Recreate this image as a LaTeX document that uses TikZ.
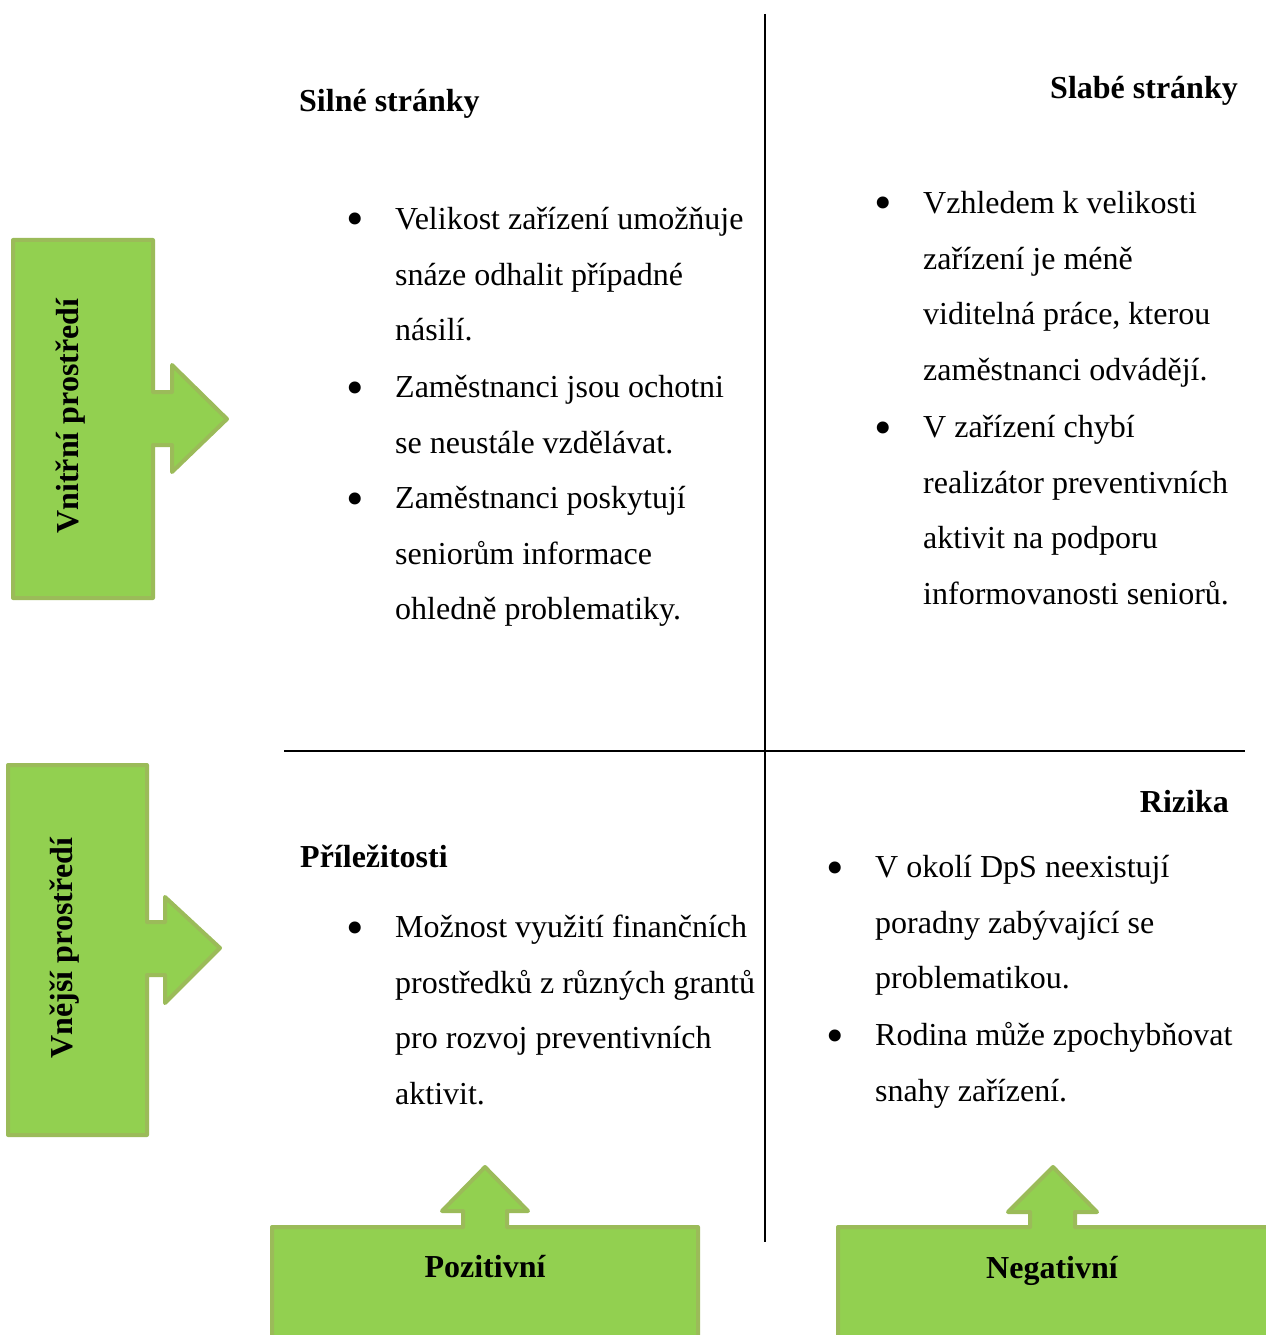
\documentclass[tikz,border=0pt]{standalone}
\usepackage{fontspec}
\setmainfont{Liberation Serif}
\usetikzlibrary{positioning}

\definecolor{zelena}{HTML}{92D050}
\definecolor{okraj}{HTML}{9BBB59}

\tikzset{
    sipka/.style={fill=zelena, draw=okraj, line width=4bp, line join=round},
    nadpis/.style={font=\fontsize{32bp}{38bp}\selectfont\bfseries, inner sep=0pt},
    polozka/.style={font=\fontsize{32bp}{55.8bp}\selectfont, align=left, anchor=north west, inner sep=0pt},
    odrazka/.style={font=\fontsize{50bp}{60bp}\selectfont, anchor=base, inner sep=0pt}
}

\begin{document}
\begin{tikzpicture}[x=1bp, y=-1bp]

    \useasboundingbox (0,0) rectangle (1265,1335);

    % Draw the cross
    \coordinate (horni) at (765,14);
    \coordinate (dolni) at (765,1242);
    \coordinate (levy) at (284,751);
    \coordinate (pravy) at (1245,751);
    \draw[line width=1.5bp] (horni) -- (dolni);
    \draw[line width=1.5bp] (levy) -- (pravy);

    % Green arrows on the left
    \draw[sipka] (13,240) -- (153,240) -- (153,392) -- (172,392) -- (172,365) -- (227,419)
        -- (172,472) -- (172,445) -- (153,445) -- (153,598) -- (13,598) -- cycle;
    \draw[sipka] (8,765) -- (147,765) -- (147,922) -- (165,922) -- (165,897) -- (220,948)
        -- (165,1003) -- (165,975) -- (147,975) -- (147,1135) -- (8,1135) -- cycle;

    % Green arrows at the bottom
    \draw[sipka] (272,1345) -- (272,1227) -- (463,1227) -- (463,1211) -- (442,1211) -- (485,1167)
        -- (528,1211) -- (507,1211) -- (507,1227) -- (698,1227) -- (698,1345);
    \draw[sipka] (838,1345) -- (838,1227) -- (1030,1227) -- (1030,1212) -- (1008,1212) -- (1053,1167)
        -- (1097,1212) -- (1075,1212) -- (1075,1227) -- (1275,1227) -- (1275,1345);

    % Arrow labels
    \node[nadpis, rotate=90, anchor=base] (vnitrni) at (78,416) {Vnitřní prostředí};
    \node[nadpis, rotate=90, anchor=base] (vnejsi) at (72,948) {Vnější prostředí};
    \node[nadpis, anchor=base] (pozitivni) at (485,1277) {Pozitivní};
    \node[nadpis, anchor=base] (negativni) at (1052,1278) {Negativní};

    % Headings of the quadrants
    \node[nadpis, anchor=base west] (silne) at (299,112) {Silné stránky};
    \node[nadpis, anchor=base east] (slabe) at (1238,99) {Slabé stránky};
    \node[nadpis, anchor=base west] (prilezitosti) at (300,867) {Příležitosti};
    \node[nadpis, anchor=base east] (rizika) at (1229,812) {Rizika};

    % Items (top of the strut = baseline - 39)
    \node[polozka] (s1) at (395,190) {\strut Velikost zařízení umožňuje\\snáze odhalit případné\\násilí.};
    \node[polozka] (s2) at (395,358) {\strut Zaměstnanci jsou ochotni\\se neustále vzdělávat.};
    \node[polozka] (s3) at (395,469) {\strut Zaměstnanci poskytují\\seniorům informace\\ohledně problematiky.};
    \node[polozka] (w1) at (923,174) {\strut Vzhledem k velikosti\\zařízení je méně\\viditelná práce, kterou\\zaměstnanci odvádějí.};
    \node[polozka] (w2) at (923,398) {\strut V zařízení chybí\\realizátor preventivních\\aktivit na podporu\\informovanosti seniorů.};
    \node[polozka] (p1) at (395,898) {\strut Možnost využití finančních\\prostředků z různých grantů\\pro rozvoj preventivních\\aktivit.};
    \node[polozka] (r1) at (875,838) {\strut V okolí DpS neexistují\\poradny zabývající se\\problematikou.};
    \node[polozka] (r2) at (875,1006) {\strut Rodina může zpochybňovat\\snahy zařízení.};

    % Bullets
    \foreach \i in {s1, s2, s3, w1, w2, p1, r1, r2} {
        \node[odrazka] (b-\i) at ([xshift=-40bp, yshift=-46bp]\i.north west) {\textbullet};
    }

\end{tikzpicture}
\end{document}
